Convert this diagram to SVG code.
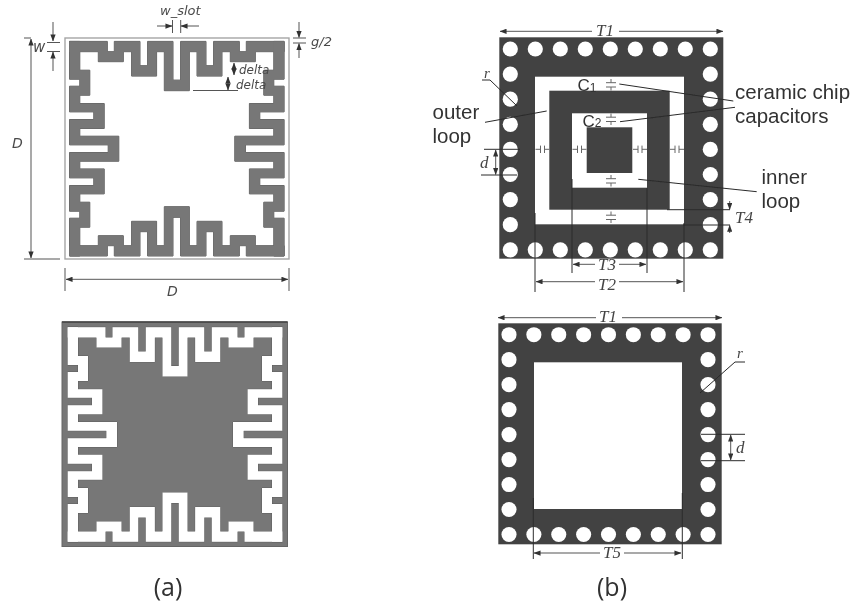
<svg xmlns="http://www.w3.org/2000/svg" xmlns:xlink="http://www.w3.org/1999/xlink" width="855" height="610" viewBox="0 0 855 610">
<style>
.ann{fill:#4a4a4a;font-family:"DejaVu Sans",sans-serif;font-style:oblique;font-size:13px}
.ser{fill:#444;font-family:"Liberation Serif",serif;font-style:italic;font-size:17px}
.lab{fill:#333;font-family:"Liberation Sans",sans-serif;font-size:20.5px}
.cap{fill:#333;font-family:"Open Sans","Noto Sans",sans-serif;font-size:25px;text-anchor:middle}
.ln{stroke:#555;stroke-width:1;fill:none}
.lnd{stroke:#2a2a2a;stroke-width:1;fill:none}
.arr{stroke:#555;stroke-width:1;fill:none;marker-start:url(#a);marker-end:url(#a)}
.arr1{stroke:#555;stroke-width:1;fill:none;marker-end:url(#a)}
.hole{fill:#fff}
.capc{stroke:#666;stroke-width:1;fill:none}
</style>
<defs>
<filter id="soft" x="-5%" y="-5%" width="110%" height="110%"><feGaussianBlur stdDeviation="0.6"/></filter>
<filter id="softT" x="-2%" y="-2%" width="104%" height="104%"><feGaussianBlur stdDeviation="0.3"/></filter>
<marker id="a" viewBox="0 0 8 6" refX="7.5" refY="3" markerWidth="7" markerHeight="5.5" markerUnits="userSpaceOnUse" orient="auto-start-reverse"><path d="M0 0L8 3L0 6Z" fill="#333"/></marker>
<path id="strip" d="M-107.3-107.3H-69.5V-97H-62.5V-107.3H-36.8V-83H-29.2V-107.3H-3.8V-68.6H3.8V-107.3H29.2V-83H36.8V-107.3H62.5V-97H69.5V-107.3H107.3V-97H78.5V-87H53.5V-97H45.2V-72.6H20.2V-97H12.5V-58H-12.5V-97H-20.2V-72.6H-45.2V-97H-53.5V-87H-78.5V-97H-107.3Z"/>
<g id="ring"><use xlink:href="#strip"/><use xlink:href="#strip" transform="rotate(90)"/><use xlink:href="#strip" transform="rotate(180)"/><use xlink:href="#strip" transform="rotate(270)"/></g>
<g id="holesTop" class="hole">
<circle cx="0" cy="0" r="7.6"/><circle cx="25" cy="0" r="7.6"/><circle cx="50" cy="0" r="7.6"/><circle cx="75" cy="0" r="7.6"/><circle cx="100" cy="0" r="7.6"/><circle cx="125" cy="0" r="7.6"/><circle cx="150" cy="0" r="7.6"/><circle cx="175" cy="0" r="7.6"/><circle cx="200" cy="0" r="7.6"/>
<circle cx="0" cy="25.1" r="7.6"/><circle cx="0" cy="50.2" r="7.6"/><circle cx="0" cy="75.3" r="7.6"/><circle cx="0" cy="100.4" r="7.6"/><circle cx="0" cy="125.5" r="7.6"/><circle cx="0" cy="150.6" r="7.6"/><circle cx="0" cy="175.7" r="7.6"/>
<circle cx="200" cy="25.1" r="7.6"/><circle cx="200" cy="50.2" r="7.6"/><circle cx="200" cy="75.3" r="7.6"/><circle cx="200" cy="100.4" r="7.6"/><circle cx="200" cy="125.5" r="7.6"/><circle cx="200" cy="150.6" r="7.6"/><circle cx="200" cy="175.7" r="7.6"/>
<circle cx="0" cy="200.8" r="7.6"/><circle cx="25" cy="200.8" r="7.6"/><circle cx="50" cy="200.8" r="7.6"/><circle cx="75" cy="200.8" r="7.6"/><circle cx="100" cy="200.8" r="7.6"/><circle cx="125" cy="200.8" r="7.6"/><circle cx="150" cy="200.8" r="7.6"/><circle cx="175" cy="200.8" r="7.6"/><circle cx="200" cy="200.8" r="7.6"/>
</g>
<g id="capV" class="capc"><path d="M0 0V3.7M-5 3.7H5M-5 8H5M0 8V11.5"/></g>
<g id="capH" class="capc"><path d="M0 0H5M5-3.7V3.7M9-3.7V3.7M9 0H14"/></g>
</defs>
<rect width="855" height="610" fill="#fff"/>

<g id="meander-unit-cell" filter="url(#soft)">
<rect x="65" y="38" width="224" height="221" fill="#fff" stroke="#a5a5a5" stroke-width="1.4"/>
<g transform="translate(176.8 148.7)"><use xlink:href="#ring" fill="#777" stroke="#5f5f5f" stroke-width="1"/><use xlink:href="#ring" fill="#777"/></g>
</g>

<g id="meander-slot-cell" filter="url(#soft)">
<rect x="62" y="322" width="225.5" height="224.5" fill="#777" stroke="#666" stroke-width="1"/>
<path d="M62 322H287.5" stroke="#444" stroke-width="1.5"/>
<g transform="translate(175 434.5)"><use xlink:href="#ring" fill="#fff" stroke="#5f5f5f" stroke-width="1"/><use xlink:href="#ring" fill="#fff"/></g>
</g>

<g id="loop-cell" filter="url(#soft)">
<rect x="499.3" y="37.3" width="224" height="221.4" fill="#424242"/>
<use xlink:href="#holesTop" x="510.3" y="49"/>
<rect x="535" y="76.7" width="149" height="147.6" fill="#fff"/>
<rect x="549.3" y="90.7" width="120.4" height="119" fill="#424242"/>
<rect x="572" y="113.3" width="75" height="74.4" fill="#fff"/>
<rect x="586.7" y="127.3" width="45.6" height="45.7" fill="#424242"/>
<use xlink:href="#capV" x="611" y="79"/>
<use xlink:href="#capV" x="611" y="113.5"/>
<use xlink:href="#capV" x="611" y="175"/>
<use xlink:href="#capV" x="611" y="211.5"/>
<use xlink:href="#capH" x="535.5" y="149.3"/>
<use xlink:href="#capH" x="572.5" y="149.3"/>
<use xlink:href="#capH" x="633" y="149.3"/>
<use xlink:href="#capH" x="670" y="149.3"/>
</g>

<g id="slot-cell" filter="url(#soft)">
<rect x="498.3" y="323.3" width="223.4" height="221" fill="#424242"/>
<use xlink:href="#holesTop" transform="translate(509 334.7) scale(.995)"/>
<rect x="534" y="362.3" width="148" height="146.7" fill="#fff"/>
</g>

<g id="connectors" filter="url(#soft)">
<path class="arr1" d="M157 26H172"/><path class="arr1" d="M199 26H181"/>
<path class="ln" d="M172.5 20V33M180.7 20V33"/>
<path class="arr1" d="M53 22V41"/><path class="arr1" d="M53 71V52"/>
<path class="ln" d="M47 42.5H60M47 51.500H60"/>
<path class="arr" d="M31 39V258"/>
<path class="ln" d="M24 38H31M24 259H60"/>
<path class="arr" d="M66 279.300H288"/>
<path class="ln" d="M65 268V291M289 268V291"/>
<path class="arr1" d="M299 22V37.500"/><path class="arr1" d="M299 58V43.500"/>
<path class="ln" d="M293 38H306M293 43H306"/>
<path class="arr" d="M234 63V75"/><path class="arr" d="M228 77V90"/>
<path class="ln" d="M193 90.500H238"/>

<path class="arr" d="M500 31.300H723"/>
<path class="lnd" d="M482 80H490L517 106"/>
<path class="lnd" d="M619.300 84L733.300 101M620 121.700L735 107.300M485 122.300L546.700 111M638.300 179.300L756.700 191.700"/>
<path class="arr" d="M495.700 150V174.500"/>
<path class="lnd" d="M484 149.300H520M481 175H517"/>
<path class="lnd" d="M667 209.700H730M683 225H730"/>
<path class="arr1" d="M729.700 201V209.500"/><path class="arr1" d="M729.700 233V225.200"/>
<path class="lnd" d="M572 179V273M647 188V273"/>
<path class="arr" d="M573 264.300H646"/>
<path class="lnd" d="M535 213V292M684 223V292"/>
<path class="arr" d="M536 281.700H683"/>

<path class="arr" d="M498 317.700H722"/>
<path class="lnd" d="M745 362H735L700 393"/>
<path class="arr" d="M730.700 435V460"/>
<path class="lnd" d="M701 434.300H745M701 460.700H745"/>
<path class="lnd" d="M533.300 498V559M682.300 493V559"/>
<path class="arr" d="M534 553H681"/>
</g>

<g id="labels" filter="url(#softT)">
<text class="ann" x="160" y="15">w_slot</text>
<text class="ann" x="33" y="52" style="font-size:15px">w</text>
<text class="ann" x="311" y="46">g/2</text>
<text class="ann" x="239" y="74" style="font-size:12px">delta</text>
<text class="ann" x="236" y="89" style="font-size:12px">delta</text>
<text class="ann" x="12" y="148" style="font-size:14px">D</text>
<text class="ann" x="167" y="296" style="font-size:14px">D</text>

<rect x="592" y="24" width="27" height="12" fill="#fff"/>
<text class="ser" x="596" y="36">T1</text>
<text class="ser" x="484" y="78" style="font-size:15px">r</text>
<text class="ser" x="480" y="168">d</text>
<text class="ser" x="735" y="223">T4</text>
<rect x="595" y="259" width="24" height="11" fill="#fff"/>
<text class="ser" x="598" y="270">T3</text>
<rect x="595" y="277" width="24" height="11" fill="#fff"/>
<text class="ser" x="598" y="290">T2</text>
<text class="lab" x="577.500" y="91" style="font-size:17px">C<tspan font-size="12" dy="1">1</tspan></text>
<text class="lab" x="582.500" y="127" style="font-size:17px">C<tspan font-size="12">2</tspan></text>
<text class="lab" x="735" y="99">ceramic chip</text>
<text class="lab" x="735" y="123">capacitors</text>
<text class="lab" x="432.500" y="119">outer</text>
<text class="lab" x="432.500" y="143">loop</text>
<text class="lab" x="761.500" y="184">inner</text>
<text class="lab" x="761.500" y="208">loop</text>

<rect x="596" y="312" width="26" height="11" fill="#fff"/>
<text class="ser" x="599" y="322">T1</text>
<text class="ser" x="737" y="358" style="font-size:15px">r</text>
<text class="ser" x="736" y="453">d</text>
<rect x="600" y="547" width="24" height="12" fill="#fff"/>
<text class="ser" x="603" y="558">T5</text>

<text class="cap" x="168" y="596">(a)</text>
<text class="cap" x="612" y="596">(b)</text>
</g>
</svg>
